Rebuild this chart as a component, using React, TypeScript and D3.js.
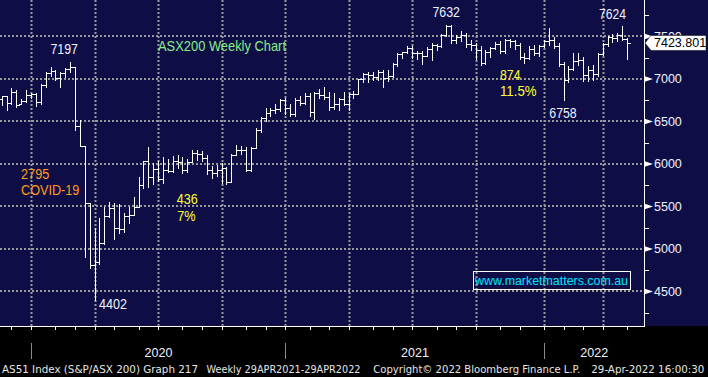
import React from 'react';
import * as d3 from 'd3';

// Weekly bars (Friday dates), S&P/ASX 200
const weeks = [
  '2019-11-15','2019-11-22','2019-11-29','2019-12-06','2019-12-13','2019-12-20','2019-12-27',
  '2020-01-03','2020-01-10','2020-01-17','2020-01-24','2020-01-31','2020-02-07','2020-02-14','2020-02-21','2020-02-28',
  '2020-03-06','2020-03-13','2020-03-20','2020-03-27','2020-04-03','2020-04-10','2020-04-17','2020-04-24',
  '2020-05-01','2020-05-08','2020-05-15','2020-05-22','2020-05-29','2020-06-05','2020-06-12','2020-06-19','2020-06-26',
  '2020-07-03','2020-07-10','2020-07-17','2020-07-24','2020-07-31','2020-08-07','2020-08-14','2020-08-21','2020-08-28',
  '2020-09-04','2020-09-11','2020-09-18','2020-09-25','2020-10-02','2020-10-09','2020-10-16','2020-10-23','2020-10-30',
  '2020-11-06','2020-11-13','2020-11-20','2020-11-27','2020-12-04','2020-12-11','2020-12-18','2020-12-25',
  '2021-01-01','2021-01-08','2021-01-15','2021-01-22','2021-01-29','2021-02-05','2021-02-12','2021-02-19','2021-02-26',
  '2021-03-05','2021-03-12','2021-03-19','2021-03-26','2021-04-02','2021-04-09','2021-04-16','2021-04-23','2021-04-30',
  '2021-05-07','2021-05-14','2021-05-21','2021-05-28','2021-06-04','2021-06-11','2021-06-18','2021-06-25',
  '2021-07-02','2021-07-09','2021-07-16','2021-07-23','2021-07-30','2021-08-06','2021-08-13','2021-08-20','2021-08-27',
  '2021-09-03','2021-09-10','2021-09-17','2021-09-24','2021-10-01','2021-10-08','2021-10-15','2021-10-22','2021-10-29',
  '2021-11-05','2021-11-12','2021-11-19','2021-11-26','2021-12-03','2021-12-10','2021-12-17','2021-12-24','2021-12-31',
  '2022-01-07','2022-01-14','2022-01-21','2022-01-28','2022-02-04','2022-02-11','2022-02-18','2022-02-25',
  '2022-03-04','2022-03-11','2022-03-18','2022-03-25','2022-04-01','2022-04-08','2022-04-15','2022-04-22','2022-04-29',
];

const open = [
  6760,6794,6719,6846,6705,6741,6816,
  6821,6733,6929,7065,7090,7017,7075,7115,7139,
  6441,6217,5539,4817,4842,5067,5388,5488,
  5242,5237,5391,5405,5497,5755,6036,5847,5942,
  5818,5935,5920,6033,6024,5928,6028,6127,6112,
  6073,5926,5890,5927,5950,5791,6102,6170,6166,
  5927,6190,6405,6539,6601,6636,6642,6756,
  6664,6587,6758,6715,6800,6607,6840,6806,6793,
  6673,6711,6767,6708,6824,6828,6995,7063,7045,
  7025,7085,7014,7030,7179,7295,7312,7369,
  7308,7309,7273,7351,7394,7392,7523,7628,7460,
  7488,7522,7406,7403,7342,7190,7320,7363,7415,
  7324,7456,7443,7396,7260,7241,7353,7304,7387,
  7444,7453,7393,7173,6988,7120,7217,7221,
  7049,7110,7064,7296,7406,7499,7478,7523,7473,
];

const high = [
  6800,6800,6890,6870,6760,6870,6830,
  6830,6935,7086,7145,7100,7080,7125,7197,7145,
  6517,6217,5545,5243,5360,5498,5556,5540,
  5530,5419,5498,5615,5850,6040,6204,6007,6030,
  6086,6060,6090,6100,6080,6060,6160,6170,6150,
  6110,5980,5990,6010,5970,6120,6220,6210,6200,
  6204,6420,6550,6660,6660,6700,6760,6780,
  6700,6780,6800,6830,6830,6850,6880,6900,6850,
  6830,6780,6850,6830,6860,7000,7070,7080,7080,
  7100,7110,7100,7190,7300,7320,7390,7390,
  7330,7330,7380,7420,7410,7530,7632,7630,7520,
  7560,7540,7460,7420,7390,7340,7380,7440,7450,
  7470,7470,7460,7420,7300,7390,7400,7400,7460,
  7600,7490,7420,7200,7150,7300,7300,7260,
  7150,7160,7300,7420,7510,7530,7540,7624,7480,
];

const low = [
  6694,6635,6700,6670,6700,6733,6772,
  6682,6700,6900,7040,6988,6910,7020,7080,6394,
  6211,4900,4772,4402,4820,5060,5380,5113,
  5184,5200,5300,5400,5490,5713,5733,5760,5800,
  5780,5900,5900,5950,5890,5900,6020,6050,6030,
  5880,5840,5860,5772,5768,5790,6100,6120,5920,
  5920,6190,6380,6500,6560,6600,6620,6590,
  6570,6560,6690,6700,6560,6530,6780,6760,6640,
  6650,6640,6690,6640,6780,6820,6970,6960,6990,
  6990,6910,6980,7020,7150,7250,7300,7250,
  7240,7180,7270,7220,7340,7380,7500,7420,7420,
  7450,7380,7340,7230,7170,7180,7260,7350,7310,
  7300,7380,7350,7240,7190,7230,7280,7270,7380,
  7400,7360,7150,6758,6960,7110,7170,6980,
  6980,6990,7040,7280,7390,7440,7450,7460,7230,
];

const close = [
  6794,6719,6846,6694,6741,6816,6821,
  6733,6929,7065,7090,7017,7075,7115,7139,6441,
  6217,5539,4817,4842,5067,5388,5488,5242,
  5237,5391,5405,5497,5755,6036,5847,5942,5818,
  5935,5920,6033,6024,5928,6028,6127,6112,6073,
  5926,5890,5927,5950,5791,6102,6170,6166,5927,
  6190,6405,6539,6601,6636,6642,6756,6664,
  6587,6758,6715,6800,6607,6840,6806,6793,6673,
  6711,6767,6708,6824,6828,6995,7063,7045,7025,
  7085,7014,7030,7179,7295,7312,7369,7308,
  7309,7273,7351,7394,7392,7523,7628,7460,7488,
  7522,7406,7403,7342,7190,7320,7363,7415,7324,
  7456,7443,7396,7260,7241,7353,7304,7387,7444,
  7453,7393,7173,6988,7120,7217,7221,7049,
  7110,7064,7296,7406,7499,7478,7523,7473,7423.801,
];

const yTicks = [4500, 5000, 5500, 6000, 6500, 7000, 7500];
const yMinorTicks = [4250, 4750, 5250, 5750, 6250, 6750, 7250, 7750];
const lastPrice = 7423.801;
const chartTitle = 'ASX200 Weekly Chart';
const footerParts = [
  'AS51 Index (S&P/ASX 200) Graph 217',
  'Weekly 29APR2021-29APR2022',
  'Copyright\u00A9 2022 Bloomberg Finance L.P.',
  '29-Apr-2022 16:00:30',
];
const watermark = 'www.marketmatters.com.au';

const W = 708;
const H = 377;
const PR = 644; // plot right
const PB = 326; // plot bottom
const BG = '#0e0d46';
const GRID = '#9a9a9a';
const TXT = '#eef2ff';
const FONT = '"Liberation Sans", Arial, sans-serif';

export default function App() {
  const parse = d3.utcParse('%Y-%m-%d');
  const dates = weeks.map((d) => parse(d) as Date);
  const x = d3.scaleLinear().domain([-0.35, 131.46]).range([0, PR]);
  const y = d3.scaleLinear().domain([4094, 7929]).range([PB, 0]);
  const step = x(1) - x(0);

  const weekMs = 7 * 864e5;
  const months = d3.utcMonth.range(new Date(Date.UTC(2019, 11, 1)), new Date(Date.UTC(2022, 5, 1)));
  const monthPos = months
    .map((m) => {
      const ff = d3.utcFriday.ceil(m);
      const idx = Math.round((+ff - +dates[0]) / weekMs);
      return { m, pos: Math.round(x(idx - 1)) + 0.5 };
    })
    .filter((d) => d.pos > 0 && d.pos < PR);
  const quarters = monthPos.filter((d) => d.m.getUTCMonth() % 3 === 0);
  const years = monthPos.filter((d) => d.m.getUTCMonth() === 0);
  const yearSpans = years.map((d, i) => ({
    label: String(d.m.getUTCFullYear()),
    pos: d.pos,
    center: (d.pos + (i + 1 < years.length ? years[i + 1].pos : PR)) / 2,
  }));

  const bars = weeks.map((_, i) => {
    const p = d3.path();
    const cx = Math.round(x(i)) + 0.5;
    const l = Math.round(x(i) - step / 2);
    const r = Math.round(x(i) + step / 2);
    const yh = Math.round(y(high[i]));
    const yl = Math.round(y(low[i]));
    const yo = Math.round(y(open[i])) + 0.5;
    const yc = Math.round(y(close[i])) + 0.5;
    p.moveTo(cx, yh);
    p.lineTo(cx, yl + 1);
    p.moveTo(l, yo);
    p.lineTo(cx, yo);
    p.moveTo(cx, yc);
    p.lineTo(r + 0.5, yc);
    return p.toString();
  });

  const yLast = y(lastPrice);

  const ann = (t: string, xx: number, yy: number, w: number, fill: string) => (
    <text x={xx} y={yy} fill={fill} fontSize={14.5} fontFamily={FONT} textLength={w} lengthAdjust="spacingAndGlyphs">
      {t}
    </text>
  );

  return (
    <svg width={W} height={H} style={{ position: 'absolute', left: 0, top: 0, display: 'block' }}>
      <defs>
        <clipPath id="aboveBox">
          <rect x={PR} y={0} width={W - PR} height={yLast - 7.5} />
        </clipPath>
      </defs>
      <rect x={0} y={0} width={W} height={H} fill="#000" />
      <rect x={0} y={0} width={W} height={PB} fill={BG} />

      {/* grid */}
      <g stroke={GRID} strokeWidth={2} strokeDasharray="2 2">
        {yTicks.map((t) => (
          <line key={t} x1={0} x2={PR} y1={Math.round(y(t))} y2={Math.round(y(t))} />
        ))}
        {quarters.map((q) => (
          <line key={+q.m} x1={q.pos} x2={q.pos} y1={0} y2={PB} />
        ))}
      </g>

      {/* bars */}
      <g stroke="#fff" strokeWidth={1} fill="none" shapeRendering="crispEdges">
        {bars.map((d, i) => (
          <path key={i} d={d} />
        ))}
      </g>

      {/* axes */}
      <g stroke="#fff" strokeWidth={1} shapeRendering="crispEdges">
        <line x1={0} x2={PR + 0.5} y1={PB + 0.5} y2={PB + 0.5} />
        <line x1={PR + 0.5} x2={PR + 0.5} y1={0} y2={PB + 0.5} />
        {monthPos.map((d) => (
          <line key={+d.m} x1={d.pos} x2={d.pos} y1={PB} y2={PB + 4} />
        ))}
        {yMinorTicks.map((t) => (
          <line key={t} x1={PR} x2={PR + 5} y1={Math.round(y(t)) + 0.5} y2={Math.round(y(t)) + 0.5} />
        ))}
      </g>
      {yTicks.map((t) => {
        const yy = y(t);
        const hidden = Math.abs(yy - yLast) < 12;
        return (
          <g key={t}>
            <polygon points={`${PR},${yy - 3} ${PR + 9},${yy} ${PR},${yy + 3}`} fill="#fff" />
            <text
              x={654}
              y={yy + 4.5}
              fill={TXT}
              fontSize={12.5}
              fontFamily={FONT}
              clipPath={hidden ? 'url(#aboveBox)' : undefined}
            >
              {t}
            </text>
          </g>
        );
      })}

      {/* last price box */}
      <polygon
        points={`${PR + 1},${yLast} ${PR + 7},${yLast - 7.5} ${706},${yLast - 7.5} ${706},${yLast + 7.5} ${PR + 7},${yLast + 7.5}`}
        fill="#fff"
        stroke="#000"
        strokeWidth={0.5}
      />
      <text x={654} y={yLast + 4.5} fill="#000" fontSize={12.5} fontFamily={FONT}>
        {lastPrice.toFixed(3)}
      </text>

      {/* year separators and labels */}
      <g stroke="#8a8a8a" strokeWidth={1} shapeRendering="crispEdges">
        {yearSpans.map((d) => (
          <line key={d.label} x1={d.pos} x2={d.pos} y1={343} y2={359} />
        ))}
      </g>
      {yearSpans.map((d) => (
        <text key={d.label} x={d.center} y={357} fill={TXT} fontSize={12.5} fontFamily={FONT} textAnchor="middle">
          {d.label}
        </text>
      ))}

      {/* annotations */}
      {ann('7197', 50.5, 53.5, 27.5, TXT)}
      {ann(chartTitle, 158, 51, 128, '#86ee86')}
      {ann('7632', 432.5, 17.3, 27.5, TXT)}
      {ann('7624', 599, 18.8, 27, TXT)}
      {ann('874', 500, 80, 20.5, '#ffff33')}
      {ann('11.5%', 500, 96, 36.5, '#ffff33')}
      {ann('6758', 549.3, 118.3, 27.4, TXT)}
      {ann('2795', 21, 179.3, 28.3, '#ff9a1a')}
      {ann('COVID-19', 21, 195, 58.3, '#ff9a1a')}
      {ann('436', 176.7, 204, 21, '#ffff33')}
      {ann('7%', 177.3, 220.6, 18.4, '#ffff33')}
      {ann('4402', 99, 309.3, 28, TXT)}

      {/* watermark */}
      <rect x={473.5} y={271.5} width={157} height={18} fill="none" stroke="#fff" strokeWidth={1} />
      <text x={475} y={285} fill="#00e4ff" fontSize={12.5} fontFamily={FONT} textLength={153} lengthAdjust="spacingAndGlyphs">
        {watermark}
      </text>

      {/* footer */}
      {[
        [2, 196],
        [206.5, 154],
        [373.3, 207],
        [591.3, 113],
      ].map(([fx, fw], i) => (
        <text
          key={i}
          x={fx}
          y={373}
          fill="#e6e6e6"
          fontSize={11}
          fontFamily={'"DejaVu Sans", Verdana, sans-serif'}
          textLength={fw}
          lengthAdjust="spacingAndGlyphs"
        >
          {footerParts[i]}
        </text>
      ))}
    </svg>
  );
}
